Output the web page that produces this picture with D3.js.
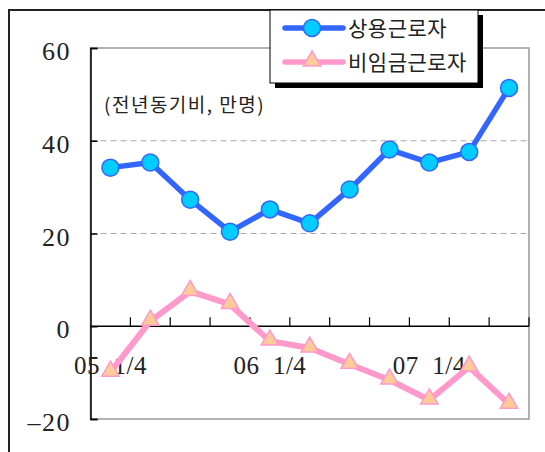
<!DOCTYPE html>
<html>
<head>
<meta charset="utf-8">
<script src="https://cdn.jsdelivr.net/npm/d3@7"></script>
<style>
  body { margin: 0; background: #fff; }
  svg { display: block; }
</style>
</head>
<body>
<div id="canvas"></div>
<script>
// data
const quarters = ["05 1/4", "05 2/4", "05 3/4", "05 4/4", "06 1/4", "06 2/4", "06 3/4", "06 4/4", "07 1/4", "07 2/4", "07 3/4"];
const regular = [34.2, 35.3, 27.3, 20.4, 25.2, 22.2, 29.5, 38.1, 35.3, 37.6, 51.4];
const nonWage = [-9.9, 1.1, 7.5, 4.7, -3.2, -4.7, -8.2, -11.6, -15.9, -8.8, -16.8];
const yTicks = [60, 40, 20, 0, -20];
const gridTicks = [40, 20];
const xLabels = ["05 1/4", "06 1/4", "07 1/4"];
const seriesNames = ["상용근로자", "비임금근로자"];

const width = 545, height = 452;
const plot = {left: 90.5, right: 529, top: 48, bottom: 419};

const svg = d3.select("#canvas")
    .append("svg")
    .attr("width", width)
    .attr("height", height);

// outer frame
svg.append("path")
    .attr("d", `M9,${height} L9,10 L${width},10`)
    .attr("fill", "none")
    .attr("stroke", "#222")
    .attr("stroke-width", 2);

// scales
const x = d3.scaleBand()
    .domain(quarters)
    .range([plot.left, plot.right]);

const y = d3.scaleLinear()
    .domain([-20, 60])
    .range([plot.bottom, plot.top]);

// plot frame
svg.append("rect")
    .attr("x", plot.left)
    .attr("y", plot.top)
    .attr("width", plot.right - plot.left)
    .attr("height", plot.bottom - plot.top)
    .attr("fill", "none")
    .attr("stroke", "#999")
    .attr("stroke-width", 1.5);

// grid lines
svg.selectAll(".grid")
    .data(gridTicks)
    .join("line")
    .attr("x1", plot.left)
    .attr("x2", plot.right)
    .attr("y1", d => y(d))
    .attr("y2", d => y(d))
    .attr("stroke", "#aaa")
    .attr("stroke-dasharray", "6,4");

// y axis
const yAxis = svg.append("g")
    .attr("transform", "translate(" + plot.left + ",0)")
    .call(d3.axisRight(y).tickValues(yTicks).tickSize(7).tickFormat(""));
yAxis.select(".domain").attr("stroke", "#000").attr("stroke-width", 1.5);
yAxis.selectAll("line").attr("stroke", "#000").attr("stroke-width", 1.5);

svg.selectAll(".ylabel")
    .data(yTicks)
    .join("text")
    .attr("x", 71)
    .attr("y", d => y(d) + 12)
    .attr("text-anchor", "end")
    .style("font-family", "'Liberation Serif', serif")
    .style("font-size", "26px")
    .style("letter-spacing", "1.5px")
    .attr("fill", "#222")
    .text(d => d < 0 ? "\u2013" + Math.abs(d) : d);

// zero axis with category ticks
svg.append("line")
    .attr("x1", plot.left)
    .attr("x2", plot.right)
    .attr("y1", y(0))
    .attr("y2", y(0))
    .attr("stroke", "#000")
    .attr("stroke-width", 1.5);

const bounds = quarters.map(q => x(q)).concat([plot.right]);
svg.selectAll(".xtick")
    .data(bounds.slice(1))
    .join("line")
    .attr("x1", d => d)
    .attr("x2", d => d)
    .attr("y1", y(0))
    .attr("y2", y(0) - 9)
    .attr("stroke", "#000")
    .attr("stroke-width", 1.2);

svg.selectAll(".xlabel")
    .data(xLabels)
    .join("text")
    .attr("x", d => x(d) + x.bandwidth() / 2)
    .attr("y", 374)
    .attr("text-anchor", "middle")
    .style("font-family", "'Liberation Serif', serif")
    .style("font-size", "25px")
    .style("letter-spacing", "0.5px")
    .attr("fill", "#222")
    .text(d => d.replace(" ", "\u00a0\u00a0"));

// unit note
svg.append("text")
    .attr("x", 104)
    .attr("y", 112)
    .style("font-family", "'Noto Sans CJK KR', sans-serif")
    .style("font-size", "19px")
    .style("letter-spacing", "1.5px")
    .attr("fill", "#222")
    .text("(전년동기비,  만명)");

// lines
const line = d3.line()
    .x((d, i) => x(quarters[i]) + x.bandwidth() / 2)
    .y(d => y(d));

svg.append("path")
    .datum(nonWage)
    .attr("fill", "none")
    .attr("stroke", "#ff99cc")
    .attr("stroke-width", 6)
    .attr("stroke-linejoin", "round")
    .attr("d", line);

const triangle = d3.symbol().type(d3.symbolTriangle).size(130);

svg.selectAll(".tri")
    .data(nonWage)
    .join("path")
    .attr("d", triangle)
    .attr("transform", (d, i) => "translate(" + (x(quarters[i]) + x.bandwidth() / 2) + "," + (y(d) - 1) + ")")
    .attr("fill", "#ffcc99")
    .attr("stroke", "#ff99cc")
    .attr("stroke-width", 1.5);

svg.append("path")
    .datum(regular)
    .attr("fill", "none")
    .attr("stroke", "#3366ff")
    .attr("stroke-width", 5.5)
    .attr("stroke-linejoin", "round")
    .attr("d", line);

svg.selectAll(".dot")
    .data(regular)
    .join("circle")
    .attr("cx", (d, i) => x(quarters[i]) + x.bandwidth() / 2)
    .attr("cy", d => y(d))
    .attr("r", 8.5)
    .attr("fill", "#00ccff")
    .attr("stroke", "#3366ff")
    .attr("stroke-width", 1.5);

// legend
const legend = svg.append("g");
legend.append("rect")
    .attr("x", 275)
    .attr("y", 15)
    .attr("width", 208)
    .attr("height", 73)
    .attr("fill", "#000");
legend.append("rect")
    .attr("x", 270)
    .attr("y", 10)
    .attr("width", 208)
    .attr("height", 73)
    .attr("fill", "#fff")
    .attr("stroke", "#000")
    .attr("stroke-width", 1);

const legendY = [28, 62];
legend.selectAll(".lline")
    .data(seriesNames)
    .join("line")
    .attr("x1", 285)
    .attr("x2", 343)
    .attr("y1", (d, i) => legendY[i])
    .attr("y2", (d, i) => legendY[i])
    .attr("stroke", (d, i) => i === 0 ? "#3366ff" : "#ff99cc")
    .attr("stroke-width", 5.5)
    .attr("stroke-linecap", "round");

legend.append("circle")
    .attr("cx", 312)
    .attr("cy", legendY[0])
    .attr("r", 8.5)
    .attr("fill", "#00ccff")
    .attr("stroke", "#3366ff")
    .attr("stroke-width", 1.5);

legend.append("path")
    .attr("d", triangle)
    .attr("transform", "translate(312," + (legendY[1] - 1) + ")")
    .attr("fill", "#ffcc99")
    .attr("stroke", "#ff99cc")
    .attr("stroke-width", 1.5);

legend.selectAll(".ltext")
    .data(seriesNames)
    .join("text")
    .attr("x", 348)
    .attr("y", (d, i) => legendY[i] + 8)
    .style("font-family", "'Noto Sans CJK KR', sans-serif")
    .style("font-size", "21px")
    .style("letter-spacing", "0.5px")
    .attr("fill", "#222")
    .text(d => d);
</script>
</body>
</html>
